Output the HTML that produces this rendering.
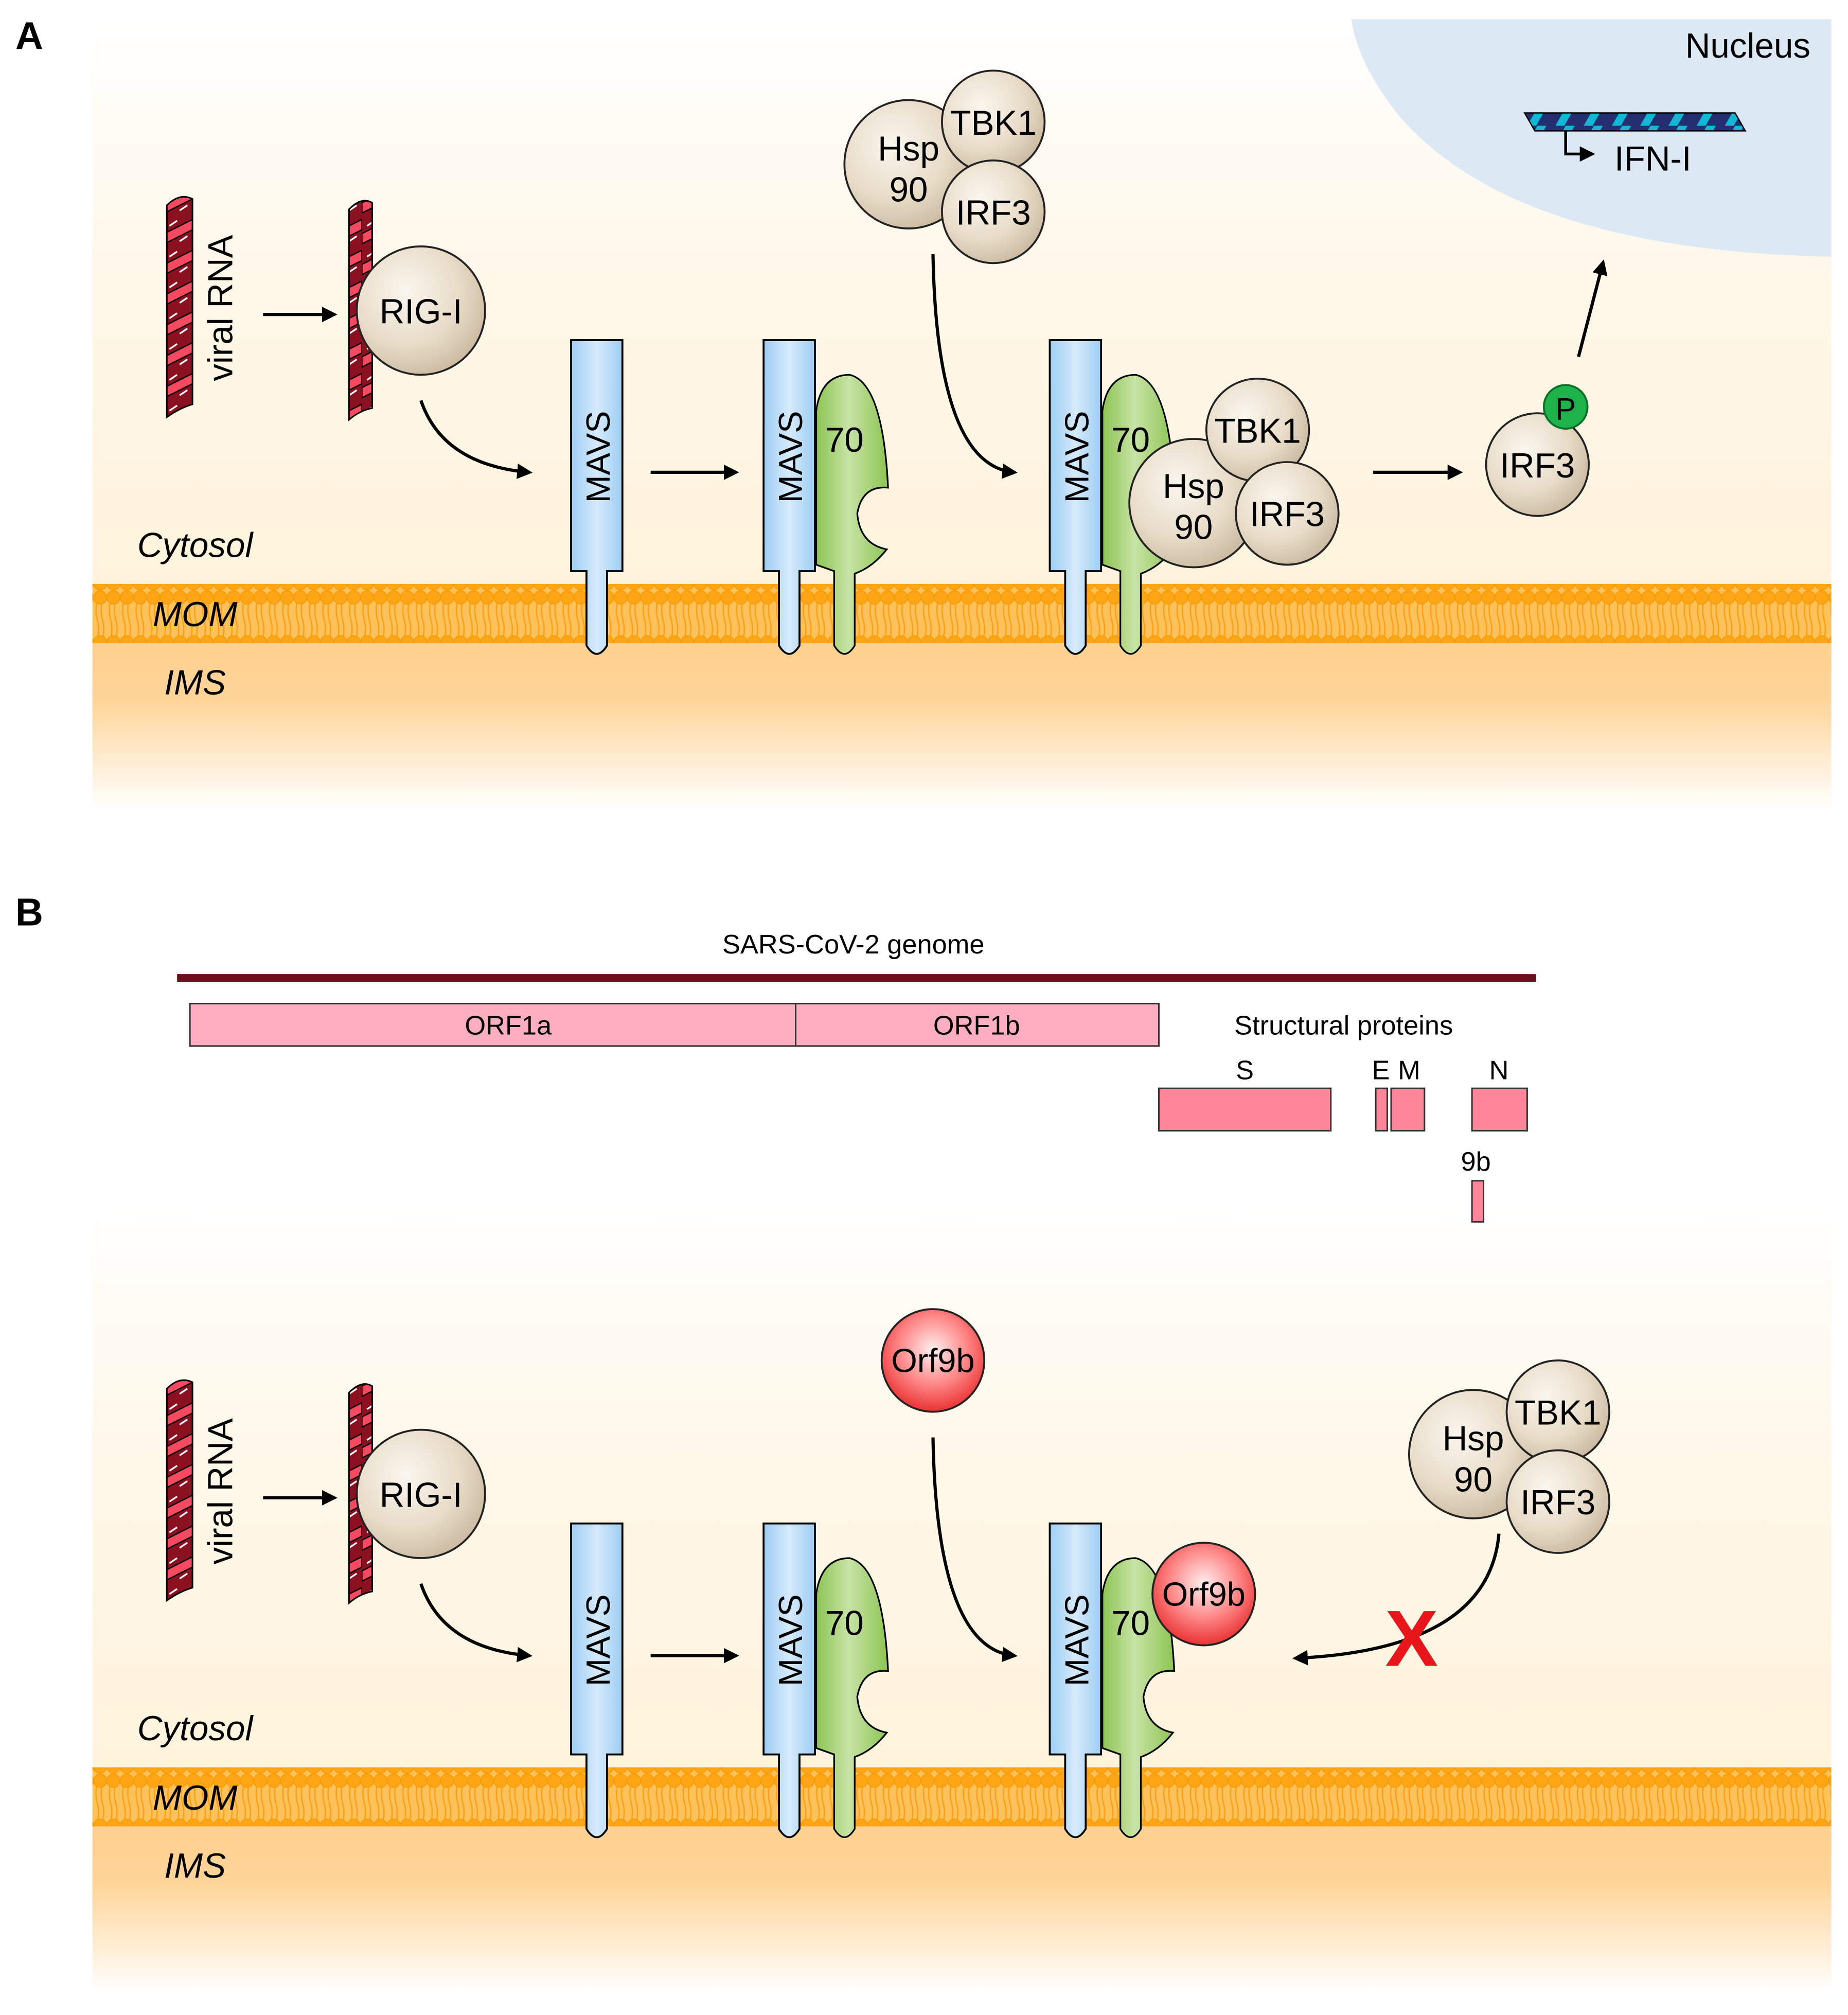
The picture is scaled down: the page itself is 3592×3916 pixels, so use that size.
<!DOCTYPE html>
<html><head><meta charset="utf-8"><style>html,body{margin:0;padding:0;background:#fff}svg{display:block}</style></head>
<body>
<svg xmlns="http://www.w3.org/2000/svg" width="3592" height="3916" viewBox="0 0 1440 1570" preserveAspectRatio="none" font-family="Liberation Sans, Arial, sans-serif">
<defs>
<linearGradient id="bgA" x1="0" y1="0" x2="0" y2="1">
<stop offset="0" stop-color="#ffffff"/><stop offset="0.3" stop-color="#fff8ea"/><stop offset="0.72" stop-color="#fff3dc"/>
<stop offset="0.735" stop-color="#ffcf8c"/><stop offset="0.86" stop-color="#ffd497"/><stop offset="1" stop-color="#ffffff"/>
</linearGradient>
<radialGradient id="beige" cx="0.38" cy="0.35" r="0.7"><stop offset="0" stop-color="#faf6ee"/><stop offset="0.6" stop-color="#e8dcc8"/><stop offset="1" stop-color="#c9b99f"/></radialGradient>
<radialGradient id="red" cx="0.5" cy="0.4" r="0.65"><stop offset="0" stop-color="#fff0f0"/><stop offset="0.5" stop-color="#ff8a8a"/><stop offset="1" stop-color="#e52222"/></radialGradient>
<linearGradient id="blue" x1="0" y1="0" x2="1" y2="0"><stop offset="0" stop-color="#9ccdf2"/><stop offset="0.5" stop-color="#d6eafa"/><stop offset="1" stop-color="#9ccdf2"/></linearGradient>
<linearGradient id="green" x1="0" y1="0" x2="1" y2="0"><stop offset="0" stop-color="#8cc452"/><stop offset="0.45" stop-color="#c8e3a6"/><stop offset="1" stop-color="#8cc452"/></linearGradient>
<pattern id="lip" width="10.4" height="46" patternUnits="userSpaceOnUse">
<rect width="10.4" height="46" fill="#ffc15a"/>
<path d="M3,8 q-2,7 0,15 q2,7 0,15 M7,8 q-2,7 0,15 q2,7 0,15" stroke="#ff9f10" stroke-width="1" fill="none"/>
<circle cx="5.2" cy="5.5" r="5.2" fill="#ffa516" stroke="#f59a00" stroke-width="0.6"/>
<circle cx="5.2" cy="40.5" r="5.2" fill="#ffa516" stroke="#f59a00" stroke-width="0.6"/>
</pattern>
<pattern id="rna" width="22" height="24" patternUnits="userSpaceOnUse" patternTransform="translate(128,0)">
<rect width="22" height="24" fill="#8b1020"/>
<path d="M0,14 L22,3 L22,11 L0,22 Z" fill="#f74a60" stroke="#000" stroke-width="1"/>
<path d="M4,8 L10,4 M12,20 L18,16" stroke="#fff" stroke-width="1.3"/>
</pattern>
<pattern id="dna" width="22" height="14" patternUnits="userSpaceOnUse">
<rect width="22" height="14" fill="#232f6e"/>
<path d="M2,14 L10,0 L17,0 L9,14 Z" fill="#11b8d6"/>
</pattern>
<marker id="ah" markerWidth="12" markerHeight="12" refX="9" refY="6" orient="auto" markerUnits="userSpaceOnUse"><path d="M0,0 L12,6 L0,12 Z" fill="#000"/></marker>
<g id="panel">
<rect x="72" y="15" width="1355" height="615" fill="url(#bgA)"/>
<rect x="72" y="455" width="1355" height="46" fill="url(#lip)"/>
<text x="152" y="434" font-size="27" font-style="italic" text-anchor="middle">Cytosol</text>
<text x="152" y="488" font-size="27" font-style="italic" text-anchor="middle">MOM</text>
<text x="152" y="541" font-size="27" font-style="italic" text-anchor="middle">IMS</text>
<path d="M130,160 Q140,150 150,155 L150,315 Q140,318 130,325 Z" fill="url(#rna)" stroke="#000" stroke-width="1.2"/>
<text transform="translate(181,240) rotate(-90)" font-size="27" text-anchor="middle">viral RNA</text>
<line x1="205" y1="245" x2="260" y2="245" stroke="#000" stroke-width="2.5" marker-end="url(#ah)"/>
<path d="M272,163 Q282,153 290,158 L290,318 Q280,320 272,327 Z" fill="url(#rna)" stroke="#000" stroke-width="1.2"/>
<circle cx="328" cy="242" r="50" fill="url(#beige)" stroke="#222" stroke-width="1.5"/>
<text x="328" y="252" font-size="27" text-anchor="middle">RIG-I</text>
<path d="M328,312 Q345,362 412,368" fill="none" stroke="#000" stroke-width="2.5" marker-end="url(#ah)"/>
<g id="mavs">
<path d="M445,265 H485 V445 H473 V503 Q465,516 457,503 V445 H445 Z" fill="url(#blue)" stroke="#000" stroke-width="1.5"/>
<text transform="translate(475,356) rotate(-90)" font-size="26" text-anchor="middle">MAVS</text>
</g>
<line x1="507" y1="368" x2="573" y2="368" stroke="#000" stroke-width="2.5" marker-end="url(#ah)"/>
<use href="#mavs" transform="translate(150,0)"/>
<g id="hsp70">
<path d="M636,440 L636,320 Q640,292 662,292 Q688,298 692,380 Q672,378 668,400 Q670,424 691,428 Q680,442 666,447 L666,503 Q658,516 650,503 L650,445 Z" fill="url(#green)" stroke="#000" stroke-width="1.3"/>
<text x="658" y="352" font-size="27" text-anchor="middle">70</text>
</g>
<path d="M727,198 Q730,362 790,368" fill="none" stroke="#000" stroke-width="2.5" marker-end="url(#ah)"/>
<use href="#mavs" transform="translate(373,0)"/>
<use href="#hsp70" transform="translate(223,0)"/>
</g>
</defs>

<use href="#panel"/>
<use href="#panel" transform="translate(0,922)"/>

<text x="12" y="38" font-size="30" font-weight="bold">A</text>
<text x="12" y="721" font-size="30" font-weight="bold">B</text>

<line x1="1070" y1="368" x2="1137" y2="368" stroke="#000" stroke-width="2.5" marker-end="url(#ah)"/>
<path d="M1053,15 L1427,15 L1427,200 Q1180,195 1090,90 Q1058,50 1053,15 Z" fill="#dde8f5"/>
<text x="1362" y="45" font-size="27" text-anchor="middle">Nucleus</text>
<path d="M1188,88 L1352,88 L1360,102 L1196,102 Z" fill="url(#dna)" stroke="#000" stroke-width="1"/>
<path d="M1220,102 V120 H1240" fill="none" stroke="#000" stroke-width="2.2" marker-end="url(#ah)"/>
<text x="1258" y="133" font-size="27">IFN-I</text>

<circle cx="708" cy="128" r="50" fill="url(#beige)" stroke="#222" stroke-width="1.5"/>
<circle cx="774" cy="95" r="40" fill="url(#beige)" stroke="#222" stroke-width="1.5"/>
<circle cx="774" cy="165" r="40" fill="url(#beige)" stroke="#222" stroke-width="1.5"/>
<text x="708" y="125" font-size="27" text-anchor="middle">Hsp</text><text x="708" y="157" font-size="27" text-anchor="middle">90</text>
<text x="774" y="105" font-size="27" text-anchor="middle">TBK1</text><text x="774" y="175" font-size="27" text-anchor="middle">IRF3</text>

<circle cx="930" cy="392" r="50" fill="url(#beige)" stroke="#222" stroke-width="1.5"/>
<circle cx="980" cy="335" r="40" fill="url(#beige)" stroke="#222" stroke-width="1.5"/>
<circle cx="1003" cy="400" r="40" fill="url(#beige)" stroke="#222" stroke-width="1.5"/>
<text x="930" y="388" font-size="27" text-anchor="middle">Hsp</text><text x="930" y="420" font-size="27" text-anchor="middle">90</text>
<text x="980" y="345" font-size="27" text-anchor="middle">TBK1</text><text x="1003" y="410" font-size="27" text-anchor="middle">IRF3</text>

<circle cx="1198" cy="362" r="40" fill="url(#beige)" stroke="#222" stroke-width="1.5"/>
<text x="1198" y="372" font-size="27" text-anchor="middle">IRF3</text>
<circle cx="1220" cy="317" r="17" fill="#1db34a" stroke="#0b6e28" stroke-width="1.5"/>
<text x="1220" y="327" font-size="24" text-anchor="middle">P</text>
<line x1="1230" y1="278" x2="1249" y2="205" stroke="#000" stroke-width="2.5" marker-end="url(#ah)"/>

<text x="665" y="743" font-size="21" text-anchor="middle">SARS-CoV-2 genome</text>
<line x1="138" y1="762" x2="1197" y2="762" stroke="#6b0f1a" stroke-width="6"/>
<rect x="148" y="782" width="472" height="33" fill="#ffaec0" stroke="#333" stroke-width="1.2"/>
<rect x="620" y="782" width="283" height="33" fill="#ffaec0" stroke="#333" stroke-width="1.2"/>
<text x="396" y="806" font-size="21" text-anchor="middle">ORF1a</text>
<text x="761" y="806" font-size="21" text-anchor="middle">ORF1b</text>
<text x="1047" y="806" font-size="21" text-anchor="middle">Structural proteins</text>
<text x="970" y="841" font-size="21" text-anchor="middle">S</text>
<text x="1076" y="841" font-size="21" text-anchor="middle">E</text>
<text x="1098" y="841" font-size="21" text-anchor="middle">M</text>
<text x="1168" y="841" font-size="21" text-anchor="middle">N</text>
<text x="1150" y="912" font-size="21" text-anchor="middle">9b</text>
<g fill="#ff8599" stroke="#333" stroke-width="1.2">
<rect x="903" y="848" width="134" height="33"/>
<rect x="1072" y="848" width="9" height="33"/>
<rect x="1084" y="848" width="26" height="33"/>
<rect x="1147" y="848" width="43" height="33"/>
<rect x="1147" y="920" width="9" height="32"/>
</g>

<circle cx="727" cy="1060" r="40" fill="url(#red)" stroke="#222" stroke-width="1.5"/>
<text x="727" y="1069" font-size="26" text-anchor="middle">Orf9b</text>
<circle cx="938" cy="1242" r="40" fill="url(#red)" stroke="#222" stroke-width="1.5"/>
<text x="938" y="1251" font-size="26" text-anchor="middle">Orf9b</text>

<circle cx="1148" cy="1133" r="50" fill="url(#beige)" stroke="#222" stroke-width="1.5"/>
<circle cx="1214" cy="1100" r="40" fill="url(#beige)" stroke="#222" stroke-width="1.5"/>
<circle cx="1214" cy="1170" r="40" fill="url(#beige)" stroke="#222" stroke-width="1.5"/>
<text x="1148" y="1130" font-size="27" text-anchor="middle">Hsp</text><text x="1148" y="1162" font-size="27" text-anchor="middle">90</text>
<text x="1214" y="1110" font-size="27" text-anchor="middle">TBK1</text><text x="1214" y="1180" font-size="27" text-anchor="middle">IRF3</text>
<path d="M1168,1195 Q1160,1285 1010,1292" fill="none" stroke="#000" stroke-width="2.5" marker-end="url(#ah)"/>
<text x="1100" y="1298" font-size="62" font-weight="bold" fill="#e8161a" text-anchor="middle">X</text>
</svg>
</body></html>
